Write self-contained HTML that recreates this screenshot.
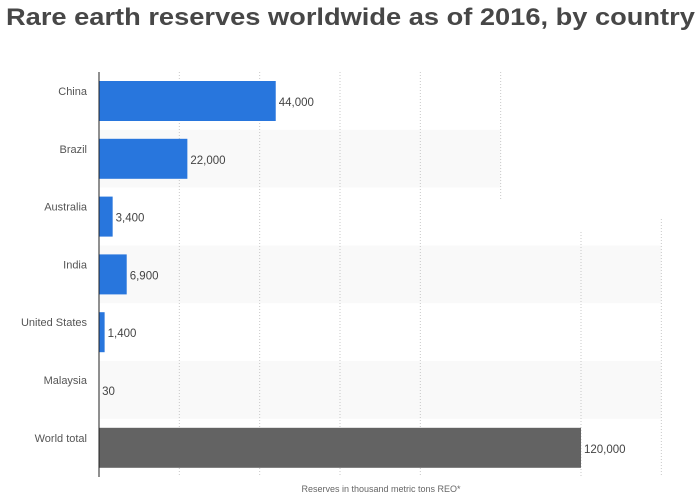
<!DOCTYPE html>
<html><head><meta charset="utf-8"><style>
body{margin:0;background:#fff;width:699px;height:498px;overflow:hidden;font-family:"Liberation Sans",sans-serif}
#title{position:absolute;left:6px;top:4px;font-size:24px;font-weight:bold;color:#474747;white-space:nowrap;transform:scaleX(1.135);transform-origin:0 0}
svg{position:absolute;left:0;top:0}
</style></head><body>
<div id="title">Rare earth reserves worldwide as of 2016, by country</div>
<svg id="chart" width="699" height="498"></svg>
<script>
const categories=["China","Brazil","Australia","India","United States","Malaysia","World total"];
const values=[44000,22000,3400,6900,1400,30,120000];
const valueLabels=["44,000","22,000","3,400","6,900","1,400","30","120,000"];
const gridTicks=[20000,40000,60000,80000,100000,120000,140000];
const NS="http://www.w3.org/2000/svg";
const svg=document.getElementById('chart');
const x0=99, pxPer=(581-99)/120000;
const xs=v=>x0+v*pxPer;
const top0=72, rowH=57.8;
const ys=i=>top0+i*rowH;
function mk(t,a){const e=document.createElementNS(NS,t);for(const k in a)e.setAttribute(k,a[k]);svg.appendChild(e);return e;}
categories.forEach((c,i)=>{if(i%2===1){const r=mk('rect',{x:x0,y:ys(i),width:(i===1?xs(100000)-x0:xs(140000)-x0),height:rowH,fill:'#f9f9f9'});

}});
gridTicks.forEach(t=>{const yStart=t===120000?232:(t===140000?219:72);const yEnd=t===100000?200:477;
const l=mk('line',{x1:xs(t),x2:xs(t),y1:yStart,y2:yEnd,stroke:'#c8c8c8','stroke-dasharray':'1,2'});

});
categories.forEach((c,i)=>{
 const yb=ys(i)+9, h=40;
 const b=mk('rect',{x:x0,y:yb,width:Math.max(values[i]*pxPer,0),height:h,fill:i===6?'#636363':'#2876dd'});
 
 
 const lab=mk('text',{x:87,y:yb+14,'text-anchor':'end','font-size':'11',fill:'#555'});lab.textContent=c;
 
 
 const v=mk('text',{x:xs(values[i])+3,y:yb+25,'font-size':'11.5',fill:'#444'});v.textContent=valueLabels[i];
 
 
});
const ax=mk('line',{x1:x0,x2:x0,y1:72,y2:477,stroke:'#222','stroke-width':1});


const at=mk('text',{x:381,y:492,'text-anchor':'middle','font-size':'9',fill:'#666'});at.textContent='Reserves in thousand metric tons REO*';


</script>
</body></html>
